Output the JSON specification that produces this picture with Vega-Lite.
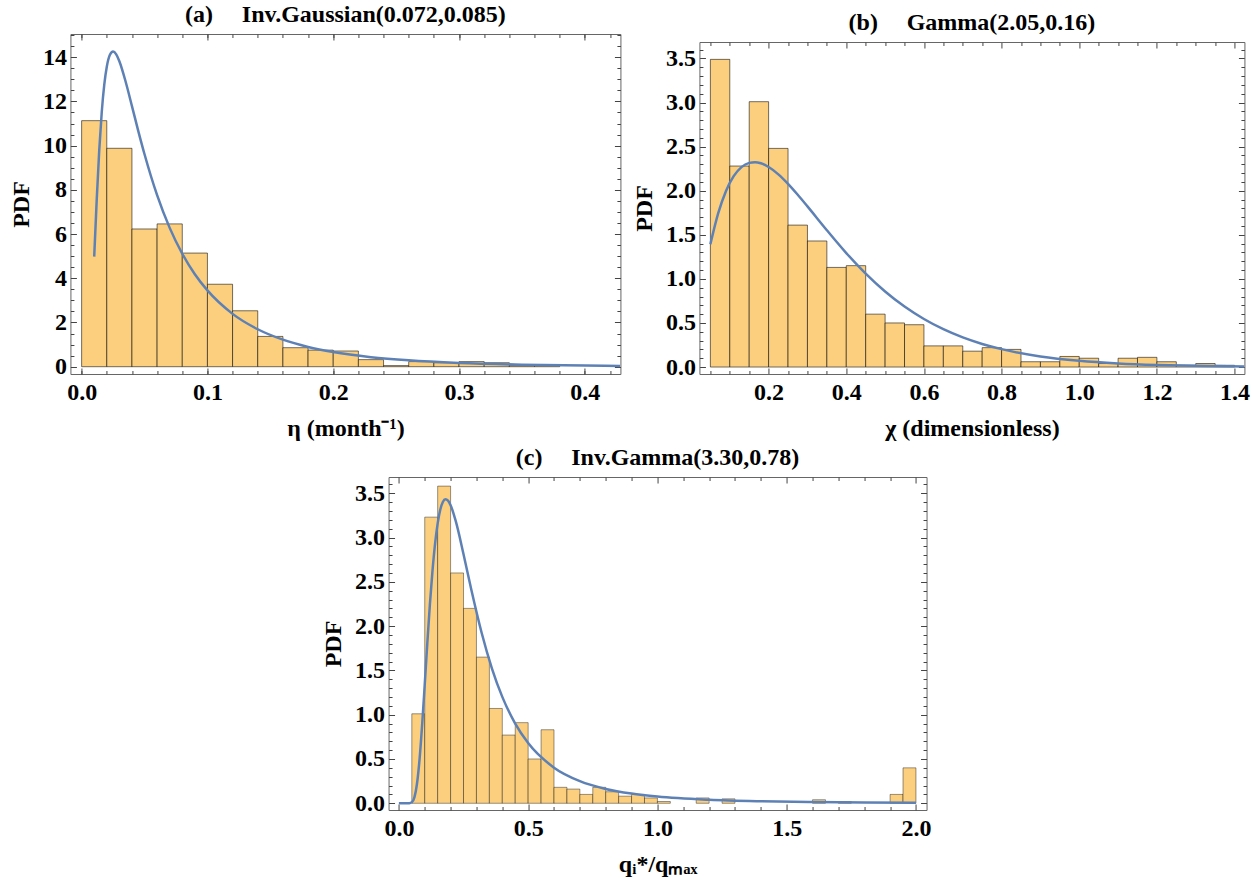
{
  "$schema": "https://vega.github.io/schema/vega-lite/v6.json",
  "background": "white",
  "padding": {"left": 8, "top": 2, "right": 2, "bottom": 5},
  "config": {
    "font": "Liberation Serif",
    "view": {"stroke": "#666", "strokeWidth": 1},
    "axis": {
      "domain": false, "domainColor": "#666", "domainWidth": 1, "grid": false, "ticks": true, "tickSize": -6, "tickColor": "#444", "tickWidth": 1,
      "labelFont": "Liberation Serif", "labelFontWeight": "bold", "labelFontSize": 24, "labelColor": "#000",
      "labelFlush": false, "labelOverlap": false, "labelBound": false,
      "titleFont": "Liberation Serif", "titleFontWeight": "bold", "titleFontSize": 24, "titleColor": "#000",
      "zindex": 1
    },
    "axisX": {"labelPadding": 12, "titlePadding": 12},
    "axisY": {"labelPadding": 10, "titlePadding": 9},
    "title": {"font": "Liberation Serif", "fontSize": 24, "fontWeight": "bold", "color": "#000", "anchor": "middle", "frame": "group", "offset": 7}
  },
  "datasets": {
    "hist_a": [
      {"x0": 0, "x1": 0.02, "pdf": 11.13}, {"x0": 0.02, "x1": 0.04, "pdf": 9.88}, {"x0": 0.04, "x1": 0.06, "pdf": 6.23},
      {"x0": 0.06, "x1": 0.08, "pdf": 6.46}, {"x0": 0.08, "x1": 0.1, "pdf": 5.14}, {"x0": 0.1, "x1": 0.12, "pdf": 3.73},
      {"x0": 0.12, "x1": 0.14, "pdf": 2.53}, {"x0": 0.14, "x1": 0.16, "pdf": 1.37}, {"x0": 0.16, "x1": 0.18, "pdf": 0.86},
      {"x0": 0.18, "x1": 0.2, "pdf": 0.75}, {"x0": 0.2, "x1": 0.22, "pdf": 0.71}, {"x0": 0.22, "x1": 0.24, "pdf": 0.32},
      {"x0": 0.24, "x1": 0.26, "pdf": 0.05}, {"x0": 0.26, "x1": 0.28, "pdf": 0.23}, {"x0": 0.28, "x1": 0.3, "pdf": 0.18},
      {"x0": 0.3, "x1": 0.32, "pdf": 0.23}, {"x0": 0.32, "x1": 0.34, "pdf": 0.18}, {"x0": 0.34, "x1": 0.36, "pdf": 0.05},
      {"x0": 0.36, "x1": 0.38, "pdf": 0.05}
    ],
    "curve_a": [
      {"x": 0.01, "pdf": 4.98}, {"x": 0.012, "pdf": 7.56}, {"x": 0.014, "pdf": 9.79}, {"x": 0.016, "pdf": 11.52},
      {"x": 0.018, "pdf": 12.76}, {"x": 0.02, "pdf": 13.57}, {"x": 0.0225, "pdf": 14.11}, {"x": 0.025, "pdf": 14.26},
      {"x": 0.0275, "pdf": 14.13}, {"x": 0.03, "pdf": 13.82}, {"x": 0.035, "pdf": 12.89}, {"x": 0.04, "pdf": 11.79},
      {"x": 0.045, "pdf": 10.67}, {"x": 0.05, "pdf": 9.61}, {"x": 0.06, "pdf": 7.76}, {"x": 0.07, "pdf": 6.28},
      {"x": 0.08, "pdf": 5.11}, {"x": 0.09, "pdf": 4.18}, {"x": 0.1, "pdf": 3.45}, {"x": 0.12, "pdf": 2.39},
      {"x": 0.14, "pdf": 1.694}, {"x": 0.16, "pdf": 1.222}, {"x": 0.18, "pdf": 0.895}, {"x": 0.2, "pdf": 0.664},
      {"x": 0.23, "pdf": 0.433}, {"x": 0.26, "pdf": 0.288}, {"x": 0.3, "pdf": 0.171}, {"x": 0.35, "pdf": 0.092},
      {"x": 0.4, "pdf": 0.051}, {"x": 0.428, "pdf": 0.037}
    ],
    "hist_b": [
      {"x0": 0.05, "x1": 0.1, "pdf": 3.49}, {"x0": 0.1, "x1": 0.15, "pdf": 2.28}, {"x0": 0.15, "x1": 0.2, "pdf": 3.01},
      {"x0": 0.2, "x1": 0.25, "pdf": 2.48}, {"x0": 0.25, "x1": 0.3, "pdf": 1.61}, {"x0": 0.3, "x1": 0.35, "pdf": 1.43},
      {"x0": 0.35, "x1": 0.4, "pdf": 1.13}, {"x0": 0.4, "x1": 0.45, "pdf": 1.15}, {"x0": 0.45, "x1": 0.5, "pdf": 0.6},
      {"x0": 0.5, "x1": 0.55, "pdf": 0.5}, {"x0": 0.55, "x1": 0.6, "pdf": 0.48}, {"x0": 0.6, "x1": 0.65, "pdf": 0.24},
      {"x0": 0.65, "x1": 0.7, "pdf": 0.24}, {"x0": 0.7, "x1": 0.75, "pdf": 0.18}, {"x0": 0.75, "x1": 0.8, "pdf": 0.22},
      {"x0": 0.8, "x1": 0.85, "pdf": 0.2}, {"x0": 0.85, "x1": 0.9, "pdf": 0.06}, {"x0": 0.9, "x1": 0.95, "pdf": 0.06},
      {"x0": 0.95, "x1": 1.0, "pdf": 0.12}, {"x0": 1.0, "x1": 1.05, "pdf": 0.1}, {"x0": 1.05, "x1": 1.1, "pdf": 0.04},
      {"x0": 1.1, "x1": 1.15, "pdf": 0.1}, {"x0": 1.15, "x1": 1.2, "pdf": 0.11}, {"x0": 1.2, "x1": 1.25, "pdf": 0.06},
      {"x0": 1.25, "x1": 1.3, "pdf": 0.02}, {"x0": 1.3, "x1": 1.35, "pdf": 0.04}, {"x0": 1.35, "x1": 1.4, "pdf": 0.02}
    ],
    "curve_b": [
      {"x": 0.05, "pdf": 1.393}, {"x": 0.07, "pdf": 1.743}, {"x": 0.09, "pdf": 1.995}, {"x": 0.11, "pdf": 2.165},
      {"x": 0.13, "pdf": 2.268}, {"x": 0.15, "pdf": 2.316}, {"x": 0.165, "pdf": 2.324}, {"x": 0.18, "pdf": 2.311},
      {"x": 0.2, "pdf": 2.269}, {"x": 0.225, "pdf": 2.186}, {"x": 0.25, "pdf": 2.078}, {"x": 0.275, "pdf": 1.954},
      {"x": 0.3, "pdf": 1.822}, {"x": 0.35, "pdf": 1.552}, {"x": 0.4, "pdf": 1.293}, {"x": 0.45, "pdf": 1.06},
      {"x": 0.5, "pdf": 0.857}, {"x": 0.55, "pdf": 0.686}, {"x": 0.6, "pdf": 0.545}, {"x": 0.65, "pdf": 0.429},
      {"x": 0.7, "pdf": 0.336}, {"x": 0.75, "pdf": 0.262}, {"x": 0.8, "pdf": 0.203}, {"x": 0.9, "pdf": 0.12},
      {"x": 1.0, "pdf": 0.0705}, {"x": 1.1, "pdf": 0.0409}, {"x": 1.2, "pdf": 0.0235}, {"x": 1.3, "pdf": 0.0134},
      {"x": 1.425, "pdf": 0.0066}
    ],
    "hist_c": [
      {"x0": 0.05, "x1": 0.1, "pdf": 1.01}, {"x0": 0.1, "x1": 0.15, "pdf": 3.23}, {"x0": 0.15, "x1": 0.2, "pdf": 3.58},
      {"x0": 0.2, "x1": 0.25, "pdf": 2.6}, {"x0": 0.25, "x1": 0.3, "pdf": 2.2}, {"x0": 0.3, "x1": 0.35, "pdf": 1.65},
      {"x0": 0.35, "x1": 0.4, "pdf": 1.07}, {"x0": 0.4, "x1": 0.45, "pdf": 0.77}, {"x0": 0.45, "x1": 0.5, "pdf": 0.91},
      {"x0": 0.5, "x1": 0.55, "pdf": 0.5}, {"x0": 0.55, "x1": 0.6, "pdf": 0.83}, {"x0": 0.6, "x1": 0.65, "pdf": 0.18},
      {"x0": 0.65, "x1": 0.7, "pdf": 0.16}, {"x0": 0.7, "x1": 0.75, "pdf": 0.1}, {"x0": 0.75, "x1": 0.8, "pdf": 0.18},
      {"x0": 0.8, "x1": 0.85, "pdf": 0.13}, {"x0": 0.85, "x1": 0.9, "pdf": 0.08}, {"x0": 0.9, "x1": 0.95, "pdf": 0.1},
      {"x0": 0.95, "x1": 1.0, "pdf": 0.06}, {"x0": 1.0, "x1": 1.05, "pdf": 0.02}, {"x0": 1.15, "x1": 1.2, "pdf": 0.06},
      {"x0": 1.25, "x1": 1.3, "pdf": 0.05}, {"x0": 1.6, "x1": 1.65, "pdf": 0.04}, {"x0": 1.7, "x1": 1.75, "pdf": 0.02},
      {"x0": 1.9, "x1": 1.95, "pdf": 0.1}, {"x0": 1.95, "x1": 2.0, "pdf": 0.4}
    ],
    "curve_c": [
      {"x": 0, "pdf": 0}, {"x": 0.02, "pdf": 0}, {"x": 0.03, "pdf": 0}, {"x": 0.04, "pdf": 0.0006},
      {"x": 0.05, "pdf": 0.0108}, {"x": 0.06, "pdf": 0.0666}, {"x": 0.07, "pdf": 0.22}, {"x": 0.08, "pdf": 0.498},
      {"x": 0.09, "pdf": 0.887}, {"x": 0.1, "pdf": 1.342}, {"x": 0.11, "pdf": 1.81}, {"x": 0.12, "pdf": 2.248},
      {"x": 0.13, "pdf": 2.627}, {"x": 0.14, "pdf": 2.932}, {"x": 0.15, "pdf": 3.16}, {"x": 0.16, "pdf": 3.314},
      {"x": 0.17, "pdf": 3.401}, {"x": 0.18, "pdf": 3.432}, {"x": 0.19, "pdf": 3.417}, {"x": 0.2, "pdf": 3.365},
      {"x": 0.22, "pdf": 3.184}, {"x": 0.25, "pdf": 2.812}, {"x": 0.28, "pdf": 2.413}, {"x": 0.32, "pdf": 1.925},
      {"x": 0.36, "pdf": 1.521}, {"x": 0.4, "pdf": 1.201}, {"x": 0.45, "pdf": 0.899}, {"x": 0.5, "pdf": 0.679},
      {"x": 0.6, "pdf": 0.402}, {"x": 0.7, "pdf": 0.25}, {"x": 0.8, "pdf": 0.162}, {"x": 0.9, "pdf": 0.109},
      {"x": 1.0, "pdf": 0.0752}, {"x": 1.2, "pdf": 0.0391}, {"x": 1.4, "pdf": 0.0221}, {"x": 1.6, "pdf": 0.0134},
      {"x": 1.8, "pdf": 0.0085}, {"x": 2.0, "pdf": 0.0056}
    ]
  },
  "vconcat": [
    {
      "hconcat": [
        {
          "width": 550, "height": 340,
          "title": {"text": "(a)\u2003\u2009Inv.Gaussian(0.072,0.085)"},
          "layer": [
            {
              "data": {"name": "hist_a"},
              "mark": {"type": "bar", "fill": "#FCCF7E", "stroke": "#000", "strokeOpacity": 0.55, "strokeWidth": 1},
              "encoding": {
                "x": {"field": "x0", "type": "quantitative", "scale": {"domain": [-0.0089, 0.4283], "nice": false, "zero": false},
                      "axis": {"orient": "bottom", "values": [0, 0.1, 0.2, 0.3, 0.4], "format": ".1f", "title": "η (month⁻¹)"}},
                "x2": {"field": "x1"},
                "y": {"field": "pdf", "type": "quantitative", "scale": {"domain": [-0.33, 15.05], "nice": false, "zero": false},
                      "axis": {"orient": "left", "values": [0, 2, 4, 6, 8, 10, 12, 14], "format": "d", "title": "PDF"}},
                "y2": {"datum": 0}
              }
            },
            {
              "data": {"name": "curve_a"},
              "mark": {"type": "line", "color": "#5E81B5", "strokeWidth": 2.5, "interpolate": "monotone"},
              "encoding": {
                "x": {"field": "x", "type": "quantitative", "axis": {"orient": "top", "values": [0, 0.1, 0.2, 0.3, 0.4], "labels": false, "title": null}},
                "y": {"field": "pdf", "type": "quantitative", "axis": {"orient": "right", "values": [0, 2, 4, 6, 8, 10, 12, 14], "labels": false, "title": null}}
              }
            },
            {
              "data": {"values": []},
              "mark": "point",
              "encoding": {
                "x": {"field": "x", "type": "quantitative", "axis": {"orient": "bottom", "tickSize": -3.5, "labels": false, "title": null,
                      "values": [0, 0.02, 0.04, 0.06, 0.08, 0.1, 0.12, 0.14, 0.16, 0.18, 0.2, 0.22, 0.24, 0.26, 0.28, 0.3, 0.32, 0.34, 0.36, 0.38, 0.4, 0.42]}},
                "y": {"field": "pdf", "type": "quantitative", "axis": {"orient": "left", "tickSize": -3.5, "labels": false, "title": null,
                      "values": [0, 0.5, 1, 1.5, 2, 2.5, 3, 3.5, 4, 4.5, 5, 5.5, 6, 6.5, 7, 7.5, 8, 8.5, 9, 9.5, 10, 10.5, 11, 11.5, 12, 12.5, 13, 13.5, 14, 14.5, 15]}}
              }
            },
            {
              "data": {"values": []},
              "mark": "point",
              "encoding": {
                "x": {"field": "x", "type": "quantitative", "axis": {"orient": "top", "tickSize": -3.5, "labels": false, "title": null,
                      "values": [0, 0.02, 0.04, 0.06, 0.08, 0.1, 0.12, 0.14, 0.16, 0.18, 0.2, 0.22, 0.24, 0.26, 0.28, 0.3, 0.32, 0.34, 0.36, 0.38, 0.4, 0.42]}},
                "y": {"field": "pdf", "type": "quantitative", "axis": {"orient": "right", "tickSize": -3.5, "labels": false, "title": null,
                      "values": [0, 0.5, 1, 1.5, 2, 2.5, 3, 3.5, 4, 4.5, 5, 5.5, 6, 6.5, 7, 7.5, 8, 8.5, 9, 9.5, 10, 10.5, 11, 11.5, 12, 12.5, 13, 13.5, 14, 14.5, 15]}}
              }
            }
          ],
          "resolve": {"axis": {"x": "independent", "y": "independent"}}
        },
        {
          "width": 545, "height": 340,
          "view": {"stroke": null},
          "title": {"text": "(b)\u2003\u2009Gamma(2.05,0.16)", "dy": 8},
          "layer": [
            {
              "data": {"name": "hist_b"},
              "mark": {"type": "bar", "fill": "#FCCF7E", "stroke": "#000", "strokeOpacity": 0.55, "strokeWidth": 1},
              "encoding": {
                "x": {"field": "x0", "type": "quantitative", "scale": {"domain": [0.0218, 1.4254], "nice": false, "zero": false},
                      "axis": {"orient": "bottom", "domain": true, "values": [0.2, 0.4, 0.6, 0.8, 1.0, 1.2, 1.4], "format": ".1f", "title": "χ (dimensionless)"}},
                "x2": {"field": "x1"},
                "y": {"field": "pdf", "type": "quantitative", "scale": {"domain": [-0.079, 3.687], "range": [340, 8], "nice": false, "zero": false},
                      "axis": {"orient": "left", "domain": true, "values": [0, 0.5, 1, 1.5, 2, 2.5, 3, 3.5], "format": ".1f", "title": "PDF"}},
                "y2": {"datum": 0}
              }
            },
            {
              "data": {"name": "curve_b"},
              "mark": {"type": "line", "color": "#5E81B5", "strokeWidth": 2.5, "interpolate": "monotone"},
              "encoding": {
                "x": {"field": "x", "type": "quantitative", "axis": {"orient": "top", "domain": true, "offset": -8, "values": [0.2, 0.4, 0.6, 0.8, 1.0, 1.2, 1.4], "labels": false, "title": null}},
                "y": {"field": "pdf", "type": "quantitative", "axis": {"orient": "right", "domain": true, "values": [0, 0.5, 1, 1.5, 2, 2.5, 3, 3.5], "labels": false, "title": null}}
              }
            },
            {
              "data": {"values": []},
              "mark": "point",
              "encoding": {
                "x": {"field": "x", "type": "quantitative", "axis": {"orient": "bottom", "tickSize": -3.5, "labels": false, "title": null,
                      "values": [0.05, 0.1, 0.15, 0.25, 0.3, 0.35, 0.45, 0.5, 0.55, 0.65, 0.7, 0.75, 0.85, 0.9, 0.95, 1.05, 1.1, 1.15, 1.25, 1.3, 1.35]}},
                "y": {"field": "pdf", "type": "quantitative", "axis": {"orient": "left", "tickSize": -3.5, "labels": false, "title": null,
                      "values": [0.1, 0.2, 0.3, 0.4, 0.6, 0.7, 0.8, 0.9, 1.1, 1.2, 1.3, 1.4, 1.6, 1.7, 1.8, 1.9, 2.1, 2.2, 2.3, 2.4, 2.6, 2.7, 2.8, 2.9, 3.1, 3.2, 3.3, 3.4, 3.6]}}
              }
            },
            {
              "data": {"values": []},
              "mark": "point",
              "encoding": {
                "x": {"field": "x", "type": "quantitative", "axis": {"orient": "top", "offset": -8, "tickSize": -3.5, "labels": false, "title": null,
                      "values": [0.05, 0.1, 0.15, 0.25, 0.3, 0.35, 0.45, 0.5, 0.55, 0.65, 0.7, 0.75, 0.85, 0.9, 0.95, 1.05, 1.1, 1.15, 1.25, 1.3, 1.35]}},
                "y": {"field": "pdf", "type": "quantitative", "axis": {"orient": "right", "tickSize": -3.5, "labels": false, "title": null,
                      "values": [0.1, 0.2, 0.3, 0.4, 0.6, 0.7, 0.8, 0.9, 1.1, 1.2, 1.3, 1.4, 1.6, 1.7, 1.8, 1.9, 2.1, 2.2, 2.3, 2.4, 2.6, 2.7, 2.8, 2.9, 3.1, 3.2, 3.3, 3.4, 3.6]}}
              }
            }
          ],
          "resolve": {"axis": {"x": "independent", "y": "independent"}}
        }
      ],
      "spacing": 79,
      "bounds": "flush"
    },
    {
      "width": 538, "height": 333,
      "title": {"text": "(c)\u2003\u2009Inv.Gamma(3.30,0.78)"},
      "layer": [
        {
          "data": {"name": "hist_c"},
          "mark": {"type": "bar", "fill": "#FCCF7E", "stroke": "#000", "strokeOpacity": 0.4, "strokeWidth": 1},
          "encoding": {
            "x": {"field": "x0", "type": "quantitative", "scale": {"domain": [-0.04, 2.041], "nice": false, "zero": false},
                  "axis": {"orient": "bottom", "values": [0, 0.5, 1.0, 1.5, 2.0], "format": ".1f", "title": "qᵢ*/qₘₐₓ"}},
            "x2": {"field": "x1"},
            "y": {"field": "pdf", "type": "quantitative", "scale": {"domain": [-0.076, 3.683], "nice": false, "zero": false},
                  "axis": {"orient": "left", "values": [0, 0.5, 1, 1.5, 2, 2.5, 3, 3.5], "format": ".1f", "title": "PDF"}},
            "y2": {"datum": 0}
          }
        },
        {
          "data": {"name": "curve_c"},
          "mark": {"type": "line", "color": "#5E81B5", "strokeWidth": 2.5, "interpolate": "monotone"},
          "encoding": {
            "x": {"field": "x", "type": "quantitative", "axis": {"orient": "top", "values": [0, 0.5, 1.0, 1.5, 2.0], "labels": false, "title": null}},
            "y": {"field": "pdf", "type": "quantitative", "axis": {"orient": "right", "values": [0, 0.5, 1, 1.5, 2, 2.5, 3, 3.5], "labels": false, "title": null}}
          }
        },
        {
          "data": {"values": []},
          "mark": "point",
          "encoding": {
            "x": {"field": "x", "type": "quantitative", "axis": {"orient": "bottom", "tickSize": -3.5, "labels": false, "title": null,
                  "values": [0.1, 0.2, 0.3, 0.4, 0.6, 0.7, 0.8, 0.9, 1.1, 1.2, 1.3, 1.4, 1.6, 1.7, 1.8, 1.9]}},
            "y": {"field": "pdf", "type": "quantitative", "axis": {"orient": "left", "tickSize": -3.5, "labels": false, "title": null,
                  "values": [0.1, 0.2, 0.3, 0.4, 0.6, 0.7, 0.8, 0.9, 1.1, 1.2, 1.3, 1.4, 1.6, 1.7, 1.8, 1.9, 2.1, 2.2, 2.3, 2.4, 2.6, 2.7, 2.8, 2.9, 3.1, 3.2, 3.3, 3.4, 3.6]}}
          }
        },
        {
          "data": {"values": []},
          "mark": "point",
          "encoding": {
            "x": {"field": "x", "type": "quantitative", "axis": {"orient": "top", "tickSize": -3.5, "labels": false, "title": null,
                  "values": [0.1, 0.2, 0.3, 0.4, 0.6, 0.7, 0.8, 0.9, 1.1, 1.2, 1.3, 1.4, 1.6, 1.7, 1.8, 1.9]}},
            "y": {"field": "pdf", "type": "quantitative", "axis": {"orient": "right", "tickSize": -3.5, "labels": false, "title": null,
                  "values": [0.1, 0.2, 0.3, 0.4, 0.6, 0.7, 0.8, 0.9, 1.1, 1.2, 1.3, 1.4, 1.6, 1.7, 1.8, 1.9, 2.1, 2.2, 2.3, 2.4, 2.6, 2.7, 2.8, 2.9, 3.1, 3.2, 3.3, 3.4, 3.6]}}
          }
        }
      ],
      "resolve": {"axis": {"x": "independent", "y": "independent"}}
    }
  ],
  "spacing": 4,
  "center": true
}
